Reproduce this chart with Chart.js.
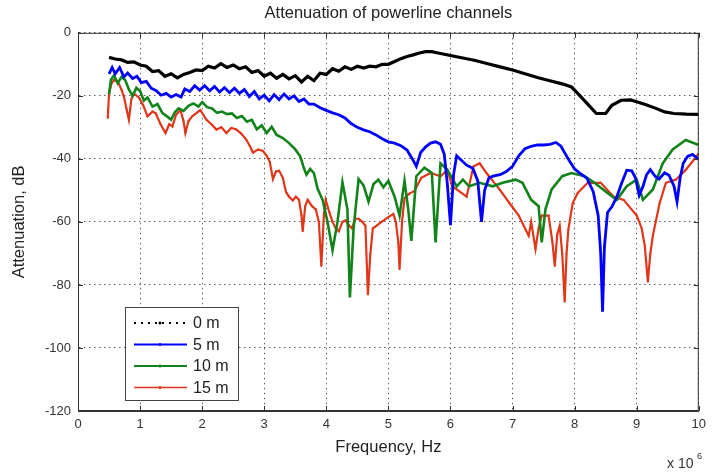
<!DOCTYPE html>
<html>
<head>
<meta charset="utf-8">
<title>Attenuation of powerline channels</title>
<script src="https://cdn.jsdelivr.net/npm/chart.js@4.4.1/dist/chart.umd.min.js"></script>
<style>
  html, body { margin: 0; padding: 0; background: #fff; }
  #wrap { width: 712px; height: 473px; }
</style>
</head>
<body>
<div id="wrap"><canvas id="chart" width="712" height="473"></canvas></div>
<script>
// =========================================
// DATOS (frecuencia x 10^6 Hz, atenuacion dB)
// =========================================
const xTicks = [0, 1, 2, 3, 4, 5, 6, 7, 8, 9, 10];
const yTicks = [0, -20, -40, -60, -80, -100, -120];
const labels = ['0 m', '5 m', '10 m', '15 m'];

// 0 m
const f0 = [0.5, 0.6, 0.7, 0.8, 0.9, 1.0, 1.1, 1.2, 1.3, 1.4, 1.5, 1.6, 1.7, 1.8, 1.9, 2.0,
  2.1, 2.2, 2.3, 2.4, 2.5, 2.6, 2.7, 2.8, 2.9, 3.0, 3.1, 3.2, 3.3, 3.4, 3.5, 3.6, 3.7, 3.8,
  3.9, 4.0, 4.1, 4.2, 4.3, 4.4, 4.5, 4.6, 4.7, 4.8, 4.9, 5.0, 5.1, 5.2, 5.3, 5.4, 5.5, 5.6,
  5.7, 5.8, 5.9, 6.0, 6.2, 6.4, 6.6, 6.8, 7.0, 7.2, 7.4, 7.6, 7.8, 7.95, 8.05, 8.2, 8.35,
  8.5, 8.6, 8.75, 8.9, 9.0, 9.15, 9.3, 9.45, 9.6, 9.8, 10.0];
const a0 = [-7.8, -8.3, -8.6, -9.4, -9.2, -10.2, -10.6, -12.3, -12.0, -13.8, -13.0, -14.3,
  -13.2, -12.6, -11.8, -12.0, -10.6, -11.2, -9.8, -11.0, -10.2, -11.4, -10.8, -12.6, -12.0,
  -13.8, -12.8, -14.4, -13.2, -14.6, -13.6, -15.6, -13.8, -15.2, -12.8, -13.2, -11.4, -12.2,
  -10.8, -11.6, -10.6, -11.2, -10.6, -10.8, -10.0, -10.0, -9.1, -8.2, -7.5, -7.0, -6.4, -6.0,
  -6.0, -6.4, -6.8, -7.2, -8.0, -8.8, -9.8, -10.8, -11.8, -13.0, -14.2, -15.2, -16.2, -17.2,
  -19.2, -22.4, -25.6, -25.6, -23.0, -21.4, -21.3, -21.9, -22.8, -23.9, -25.1, -25.6, -25.8, -25.9];

// 5 m
const f5 = [0.5, 0.55, 0.6, 0.67, 0.74, 0.8, 0.88, 0.95, 1.02, 1.1, 1.18, 1.26, 1.34, 1.42,
  1.5, 1.58, 1.66, 1.72, 1.8, 1.88, 1.96, 2.04, 2.12, 2.2, 2.28, 2.36, 2.44, 2.52, 2.6, 2.68,
  2.76, 2.84, 2.92, 3.0, 3.08, 3.16, 3.24, 3.32, 3.4, 3.48, 3.56, 3.64, 3.72, 3.8, 3.9, 4.0,
  4.1, 4.2, 4.3, 4.4, 4.5, 4.6, 4.7, 4.8, 4.9, 5.0, 5.1, 5.2, 5.3, 5.4, 5.45, 5.52, 5.6, 5.68,
  5.76, 5.84, 5.9, 5.95, 6.0, 6.05, 6.1, 6.18, 6.26, 6.36, 6.44, 6.5, 6.55, 6.62, 6.7, 6.8,
  6.9, 7.0, 7.1, 7.2, 7.3, 7.4, 7.5, 7.6, 7.7, 7.78, 7.85, 7.92, 8.0, 8.1, 8.2, 8.3, 8.38,
  8.42, 8.45, 8.48, 8.53, 8.6, 8.68, 8.76, 8.84, 8.92, 8.98, 9.04, 9.1, 9.16, 9.22, 9.3,
  9.36, 9.45, 9.52, 9.6, 9.65, 9.7, 9.75, 9.82, 9.9, 10.0];
const a5 = [-13, -11, -13, -11, -14, -12.8, -14.5, -13.8, -15.8, -15.4, -17.6, -18.4, -19.8,
  -19.2, -20.4, -19.6, -20.4, -17.8, -18.6, -16.8, -18.2, -16.8, -18.4, -17.0, -18.8, -17.4,
  -19.0, -17.6, -19.2, -18.0, -20.2, -18.6, -21.0, -19.8, -21.6, -19.6, -21.2, -19.4, -21.0,
  -20.0, -21.8, -21.0, -22.6, -22.6, -23.8, -24.6, -25.4, -26.0, -27.0, -28.8, -30.0, -30.8,
  -31.4, -32.4, -33.6, -34.6, -35.0, -35.8, -37.2, -40.5, -42.4, -38.0, -36.2, -35.0, -34.6,
  -35.4, -38.5, -48, -61, -45, -39, -40.5, -42.0, -43.0, -47.0, -60, -50, -46.0, -45.4, -45.0,
  -44.0, -42.4, -39.0, -36.8, -36.0, -35.6, -35.6, -35.4, -34.8, -36.0, -38.4, -40.8, -43.2,
  -44.8, -46.2, -50.4, -58, -70, -88.5, -68, -57, -55.2, -52, -47.6, -43.6, -43.8, -46,
  -51.6, -48.8, -45, -43.4, -45.6, -46.4, -44.4, -45.2, -48.6, -53.6, -46, -41.4, -39.2,
  -38.6, -40.2];

// 10 m
const f10 = [0.5, 0.53, 0.58, 0.64, 0.7, 0.76, 0.82, 0.88, 0.94, 1.0, 1.06, 1.12, 1.2, 1.28,
  1.36, 1.44, 1.5, 1.56, 1.62, 1.7, 1.78, 1.86, 1.94, 2.0, 2.08, 2.16, 2.24, 2.32, 2.4, 2.48,
  2.56, 2.64, 2.72, 2.8, 2.88, 2.96, 3.04, 3.12, 3.2, 3.3, 3.4, 3.5, 3.58, 3.64, 3.68, 3.74,
  3.8, 3.86, 3.94, 4.02, 4.1, 4.18, 4.26, 4.34, 4.38, 4.44, 4.52, 4.6, 4.68, 4.76, 4.84, 4.92,
  5.0, 5.1, 5.18, 5.26, 5.32, 5.37, 5.45, 5.58, 5.7, 5.76, 5.84, 5.95, 6.1, 6.2, 6.3, 6.47,
  6.68, 6.84, 7.05, 7.16, 7.3, 7.42, 7.47, 7.53, 7.63, 7.8, 7.95, 8.16, 8.32, 8.53, 8.68,
  8.84, 9.0, 9.1, 9.26, 9.42, 9.58, 9.79, 10.0];
const a10 = [-19.5, -15, -13.5, -16, -14, -15, -18, -20, -17.5, -18.5, -21.5, -20.5, -23.4,
  -22.6, -25.5, -26.6, -27.6, -25.2, -24.0, -24.8, -23.2, -22.4, -23.4, -22.0, -23.6, -24.0,
  -25.4, -25.0, -25.8, -25.6, -27.0, -26.4, -28.2, -27.6, -30.6, -29.4, -31.8, -29.8, -32.4,
  -33.4, -35.0, -37.0, -39.2, -43.0, -45.0, -43.2, -44.5, -49.5, -53, -60, -69, -60, -47.4,
  -56, -84, -62, -46.4, -48.4, -53.6, -48.0, -46.6, -49.0, -47.0, -52, -58, -47.0, -56, -66,
  -45.5, -42.8, -44.5, -66.5, -41.4, -43.5, -48.7, -46.6, -48.7, -47.6, -48.7, -47.6, -46.6,
  -47.6, -53, -55, -66.5, -56, -49.7, -45.5, -44.5, -45.5, -47.6, -50.8, -53, -48.7, -46.6,
  -53, -49.7, -41.4, -37, -34, -35.6];

// 15 m
const f15 = [0.48, 0.5, 0.54, 0.58, 0.64, 0.7, 0.74, 0.78, 0.82, 0.86, 0.9, 0.98, 1.05, 1.12,
  1.2, 1.25, 1.33, 1.41, 1.47, 1.52, 1.58, 1.65, 1.7, 1.73, 1.78, 1.84, 1.97, 2.07, 2.15,
  2.23, 2.31, 2.39, 2.47, 2.55, 2.63, 2.71, 2.77, 2.82, 2.9, 2.98, 3.04, 3.09, 3.14, 3.19,
  3.24, 3.3, 3.35, 3.4, 3.46, 3.51, 3.56, 3.6, 3.62, 3.66, 3.7, 3.77, 3.83, 3.88, 3.92, 3.96,
  3.99, 4.05, 4.1, 4.15, 4.2, 4.26, 4.31, 4.36, 4.41, 4.47, 4.52, 4.58, 4.63, 4.67, 4.71,
  4.75, 4.79, 4.89, 5.0, 5.08, 5.12, 5.16, 5.18, 5.22, 5.26, 5.34, 5.42, 5.53, 5.68, 5.84,
  5.95, 6.03, 6.1, 6.26, 6.37, 6.47, 6.58, 6.79, 6.95, 7.1, 7.2, 7.26, 7.3, 7.37, 7.42, 7.47,
  7.58, 7.64, 7.68, 7.72, 7.76, 7.8, 7.84, 7.87, 7.9, 7.97, 8.05, 8.21, 8.42, 8.63, 8.79, 9.0,
  9.08, 9.13, 9.18, 9.22, 9.26, 9.37, 9.47, 9.63, 9.79, 10.0];
const a15 = [-27, -19.3, -16, -15, -15.5, -18, -20.3, -24, -27.6, -21, -19.3, -20.5, -23,
  -26.5, -25, -25.5, -29, -31.8, -29, -29.7, -26, -24.5, -28, -31.8, -28, -26.5, -24.5, -27.6,
  -29, -30.7, -30, -31.8, -30.2, -30.7, -32, -33.9, -36, -38, -37, -37.5, -39, -41, -46.4,
  -44, -43.8, -46, -50.5, -52, -53.2, -52, -53, -58, -63, -55, -53, -55, -56, -60, -74, -58,
  -53, -57, -60, -62, -63, -60, -59.5, -61, -62, -59, -59, -60, -61.2, -83, -70, -62, -61.5,
  -60, -58.5, -57.5, -60, -66.5, -75, -60, -52.5, -51, -50.2, -46, -44.5, -45.5, -43.5, -48.7,
  -49.7, -52, -42.4, -41.4, -44.5, -49.7, -54, -58, -62, -64.4, -60, -68.6, -62, -58, -58,
  -66, -74, -64, -61.3, -70, -85.3, -70, -62.3, -54, -50.8, -47.6, -47.6, -52, -53, -58, -62,
  -67.5, -79, -70, -64.4, -54, -47.6, -46.6, -43.5, -38.3];

function puntos(fs, as) {
  return fs.map((f, i) => ({ x: f, y: as[i] }));
}

const fuente = '"Liberation Sans", Arial, sans-serif';

// =========================================
// MARCO ESTILO MATLAB + LEYENDA
// =========================================
const marco = {
  id: 'marco',
  afterDraw(chart) {
    const { ctx, chartArea: a, scales } = chart;
    const xs = scales.x, ys = scales.y;
    ctx.save();

    // caja
    ctx.strokeStyle = '#333';
    ctx.lineWidth = 1;
    ctx.strokeRect(a.left + 0.5, a.top + 0.5, a.width - 1, a.height - 1);

    // marcas interiores
    ctx.beginPath();
    xTicks.forEach(v => {
      const px = Math.round(xs.getPixelForValue(v)) + 0.5;
      ctx.moveTo(px, a.bottom); ctx.lineTo(px, a.bottom - 5);
      ctx.moveTo(px, a.top); ctx.lineTo(px, a.top + 5);
    });
    yTicks.forEach(v => {
      const py = Math.round(ys.getPixelForValue(v)) + 0.5;
      ctx.moveTo(a.left, py); ctx.lineTo(a.left + 5, py);
      ctx.moveTo(a.right, py); ctx.lineTo(a.right - 5, py);
    });
    ctx.stroke();

    // exponente del eje x
    ctx.fillStyle = '#333';
    ctx.font = '14px ' + fuente;
    ctx.textBaseline = 'alphabetic';
    ctx.textAlign = 'left';
    ctx.fillText('x 10', 667, 468);
    ctx.font = '9px ' + fuente;
    ctx.fillText('6', 697, 459);

    // leyenda
    const bx = 125, by = 307, bw = 113, bh = 93;
    ctx.fillStyle = '#fff';
    ctx.fillRect(bx, by, bw, bh);
    ctx.strokeStyle = '#444';
    ctx.lineWidth = 1;
    ctx.strokeRect(bx + 0.5, by + 0.5, bw, bh);
    ctx.font = '16px ' + fuente;
    ctx.textBaseline = 'middle';
    chart.data.datasets.forEach((ds, i) => {
      const yy = by + 16 + i * 21.5;
      ctx.strokeStyle = ds.borderColor;
      ctx.lineWidth = i === 3 ? 1.3 : 2;
      ctx.setLineDash(i === 0 ? [2, 5] : []);
      ctx.beginPath();
      ctx.moveTo(bx + 9, yy); ctx.lineTo(bx + 62, yy);
      ctx.stroke();
      ctx.setLineDash([]);
      ctx.fillStyle = ds.borderColor;
      ctx.beginPath();
      ctx.arc(bx + 35, yy, 1.5, 0, Math.PI * 2);
      ctx.fill();
      ctx.fillStyle = '#222';
      ctx.fillText(ds.label, bx + 68, yy + 1);
    });
    ctx.restore();
  }
};

// =========================================
// GRAFICO
// =========================================
new Chart(document.getElementById('chart'), {

  type: 'line',

  data: {
    datasets: [
      { label: labels[0], data: puntos(f0, a0), borderColor: '#000000', borderWidth: 3.2,
        pointRadius: 0, tension: 0 },
      { label: labels[1], data: puntos(f5, a5), borderColor: '#0000ff', borderWidth: 2.8,
        pointRadius: 0, tension: 0 },
      { label: labels[2], data: puntos(f10, a10), borderColor: '#12831a', borderWidth: 2.6,
        pointRadius: 0, tension: 0 },
      { label: labels[3], data: puntos(f15, a15), borderColor: '#e0361a', borderWidth: 2.2,
        pointRadius: 1, pointBackgroundColor: '#e0361a', pointBorderWidth: 0, tension: 0 }
    ]
  },

  options: {
    responsive: false,
    animation: false,
    layout: { padding: { top: 0, right: 7, bottom: 0, left: 0 } },
    plugins: {
      legend: { display: false },
      tooltip: { enabled: false },
      title: {
        display: true,
        fullSize: false,
        text: 'Attenuation of powerline channels',
        color: '#222',
        font: { family: fuente, size: 16.5, weight: 'normal' },
        padding: { top: 4, bottom: 9 }
      }
    },
    scales: {
      x: {
        type: 'linear',
        min: 0, max: 10,
        afterFit: s => { s.height = 62; },
        afterBuildTicks: s => { s.ticks = xTicks.map(v => ({ value: v })); },
        ticks: { color: '#333', padding: 6, font: { family: fuente, size: 13 } },
        grid: { color: 'rgba(40,40,40,0.75)', lineWidth: 1, drawTicks: false },
        border: { display: true, color: '#333', dash: [1.5, 3.5] },
        title: {
          display: true, text: 'Frequency, Hz', color: '#222',
          font: { family: fuente, size: 16.5 }, padding: { top: 0, bottom: 16 }
        }
      },
      y: {
        type: 'linear',
        min: -120, max: 0,
        afterFit: s => { s.width = 78; },
        afterBuildTicks: s => { s.ticks = yTicks.slice().reverse().map(v => ({ value: v })); },
        ticks: { color: '#333', padding: 7, font: { family: fuente, size: 13 } },
        grid: { color: 'rgba(40,40,40,0.75)', lineWidth: 1, drawTicks: false },
        border: { display: true, color: '#333', dash: [1.5, 3.5] },
        title: {
          display: true, text: 'Attenuation, dB', color: '#222',
          font: { family: fuente, size: 16.5 }, padding: { top: 10, bottom: 0 }
        }
      }
    }
  },

  plugins: [marco]

});
</script>
</body>
</html>
